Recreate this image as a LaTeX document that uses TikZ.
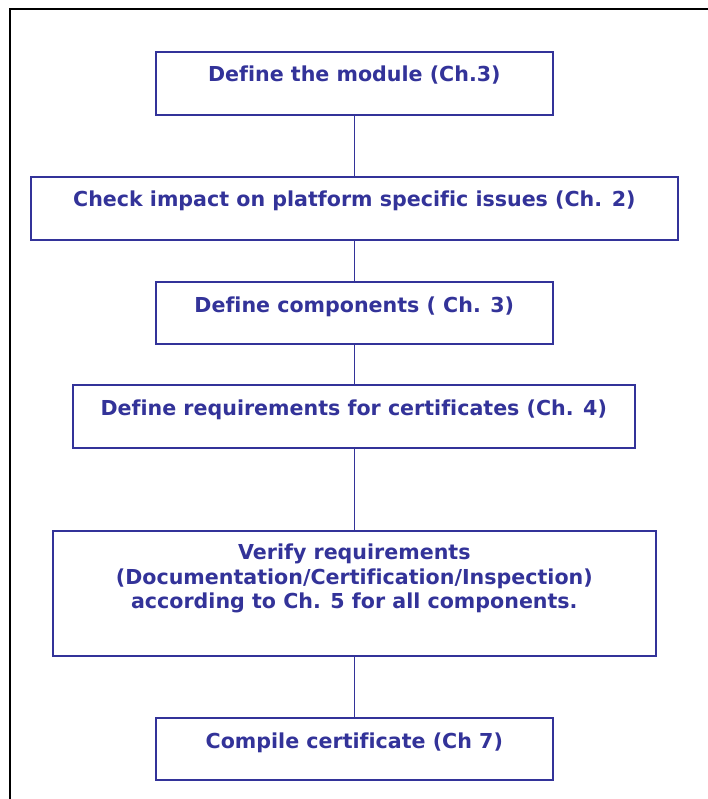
\documentclass[tikz,border=0pt]{standalone}
\usepackage{fontspec}
\setmainfont[Ligatures={NoCommon}]{DejaVu Sans}
\definecolor{flowblue}{RGB}{51,51,153}
\begin{document}
\begin{tikzpicture}[x=1pt,y=-1pt,
  box/.style={draw=flowblue, line width=1.6pt, rectangle, inner sep=0pt, anchor=north west},
  label/.style={text=flowblue, font=\bfseries\fontsize{20.6}{24.5}\selectfont, inner sep=0pt, align=center},
  conn/.style={draw=flowblue, line width=1.6pt}]
\useasboundingbox (0,0) rectangle (708,799);
\fill[white] (0,0) rectangle (708,799);
\draw[line width=2pt, black] (9.5,799) -- (9.5,9.5) -- (708,9.5);
% boxes
\node[box, minimum width=397pt, minimum height=63pt] (b1) at (155,51) {};
\node[box, minimum width=647pt, minimum height=63pt] (b2) at (30,176) {};
\node[box, minimum width=397pt, minimum height=62pt] (b3) at (155,281) {};
\node[box, minimum width=562pt, minimum height=63pt] (b4) at (72,384) {};
\node[box, minimum width=603pt, minimum height=125pt] (b5) at (52,530) {};
\node[box, minimum width=397pt, minimum height=62pt] (b6) at (155,717) {};
% texts
\node[label, anchor=base] (t1) at ([yshift=-31pt]b1.north) {Define the module (Ch.3)};
\node[label, anchor=base] (t2) at ([yshift=-31pt]b2.north) {Check impact on platform specific issues (Ch. 2)};
\node[label, anchor=base] (t3) at ([yshift=-31pt]b3.north) {Define components ( Ch. 3)};
\node[label, anchor=base] (t4) at ([yshift=-31pt]b4.north) {Define requirements for certificates (Ch. 4)};
\node[label, anchor=north] (t5) at ([yshift=-14pt]b5.north) {Verify requirements\\(Documentation/Certification/Inspection)\\according to Ch. 5 for all components.};
\node[label, anchor=base] (t6) at ([yshift=-31pt]b6.north) {Compile certificate (Ch 7)};
% connectors
\draw[conn] (b1.south) -- (b1.south |- b2.north);
\draw[conn] (b2.south -| b1.south) -- (b1.south |- b3.north);
\draw[conn] (b3.south) -- (b3.south |- b4.north);
\draw[conn] (b4.south -| b3.south) -- (b3.south |- b5.north);
\draw[conn] (b5.south -| b3.south) -- (b3.south |- b6.north);
\end{tikzpicture}
\end{document}
